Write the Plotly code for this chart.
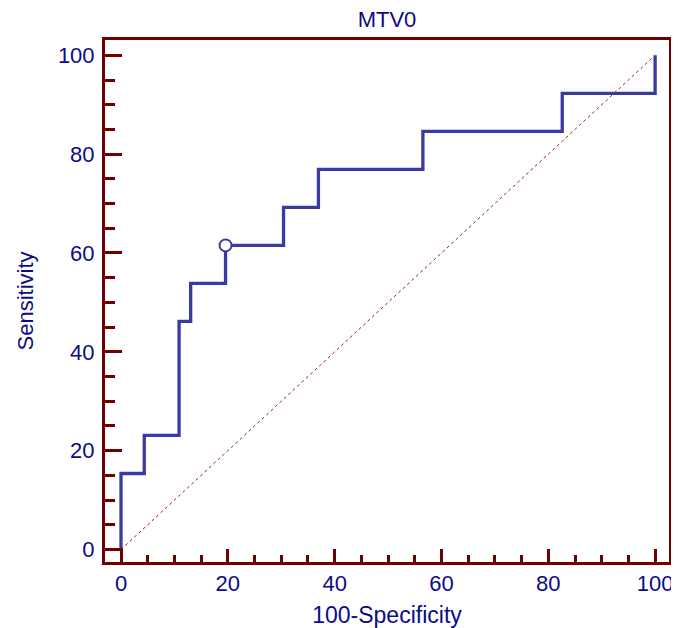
import plotly.graph_objects as go

# ROC step curve data (100-Specificity, Sensitivity)
fpr = [0, 0, 4.35, 4.35, 10.87, 10.87, 13.04, 13.04, 19.57, 19.57, 30.43, 30.43,
       36.96, 36.96, 56.52, 56.52, 82.61, 82.61, 100, 100]
tpr = [0, 15.38, 15.38, 23.08, 23.08, 46.15, 46.15, 53.85, 53.85, 61.54, 61.54, 69.23,
       69.23, 76.92, 76.92, 84.62, 84.62, 92.31, 92.31, 100]
criterion_x = [19.57]
criterion_y = [61.54]
diag_x = [0, 100]
diag_y = [0, 100]
tick_vals = [0, 20, 40, 60, 80, 100]

navy = "#0c0c85"
maroon = "#700000"
curve = "#3a3aa0"
font_family = "Liberation Sans, Arial"

# the page body has an 8px margin, so the figure is sized to fit the window
W, H = 671, 620

fig = go.Figure()
fig.add_trace(go.Scatter(x=diag_x, y=diag_y, mode="lines",
                         line=dict(color="#a02020", width=1, dash="dot"),
                         hoverinfo="skip", showlegend=False))
fig.add_trace(go.Scatter(x=fpr, y=tpr, mode="lines",
                         line=dict(color=curve, width=3.3),
                         showlegend=False))
fig.add_trace(go.Scatter(x=criterion_x, y=criterion_y, mode="markers",
                         marker=dict(size=12, color="white",
                                     line=dict(color=curve, width=2)),
                         showlegend=False))

axis_common = dict(
    showgrid=False, zeroline=False, automargin=False,
    showline=True, linecolor=maroon, linewidth=3, mirror=True,
    ticks="inside", tickcolor=maroon, tickwidth=3,
    tickvals=tick_vals,
    tickfont=dict(family=font_family, size=22, color=navy),
)

fig.update_layout(
    width=W, height=H,
    margin=dict(l=97, r=10, t=32, b=66),
    paper_bgcolor="white", plot_bgcolor="white",
    title=dict(text="MTV0", x=0.5, xref="paper", xanchor="center",
               y=1 - 11.5 / H, yref="container", yanchor="middle",
               font=dict(family=font_family, size=22, color=navy)),
    xaxis=dict(**axis_common, range=[-3.0, 102.6], ticklen=13,
               minor=dict(ticks="inside", ticklen=7, tickcolor=maroon, tickwidth=3, dtick=5),
               ticklabelstandoff=0,
               title=dict(text="100-Specificity", standoff=14,
                          font=dict(family=font_family, size=23, color=navy))),
    yaxis=dict(**axis_common, range=[-2.53, 103.1], ticklen=17,
               minor=dict(ticks="inside", ticklen=10, tickcolor=maroon, tickwidth=3, dtick=5),
               ticklabelstandoff=3,
               title=dict(text="Sensitivity", standoff=19,
                          font=dict(family=font_family, size=22, color=navy))),
)

fig.write_html("out.html")
